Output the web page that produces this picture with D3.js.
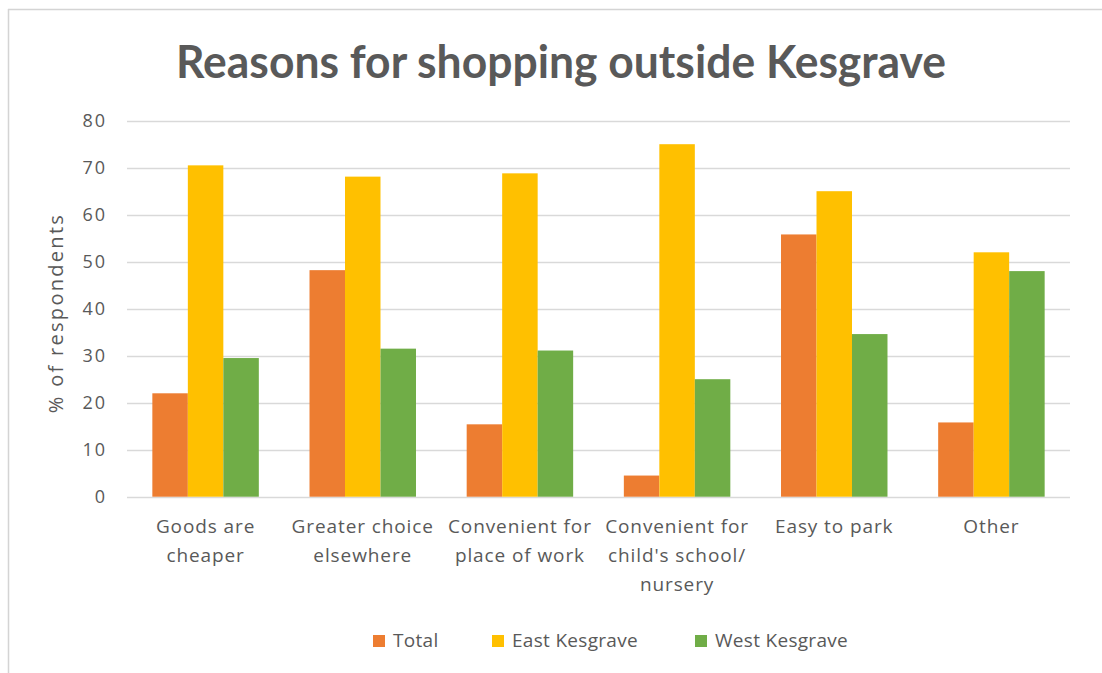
<!DOCTYPE html>
<html>
<head>
<meta charset="utf-8">
<script src="https://cdn.jsdelivr.net/npm/d3@7"></script>
<style>
  html, body { margin: 0; padding: 0; background: #ffffff; }
  svg { display: block; }
</style>
</head>
<body>
<svg id="chart" width="1102" height="673"></svg>
<script>
// Survey results: share of respondents giving each reason
const categories = [
  ["Goods are", "cheaper"],
  ["Greater choice", "elsewhere"],
  ["Convenient for", "place of work"],
  ["Convenient for", "child's school/", "nursery"],
  ["Easy to park"],
  ["Other"]
];
const seriesNames = ["Total", "East Kesgrave", "West Kesgrave"];
const totalValues = [22.0, 48.2, 15.4, 4.5, 55.8, 15.8];
const eastValues  = [70.5, 68.1, 68.8, 75.0, 65.0, 52.0];
const westValues  = [29.5, 31.5, 31.1, 25.0, 34.6, 48.0];
const yTicks = [0, 10, 20, 30, 40, 50, 60, 70, 80];
const colors = ["#ED7D31", "#FFC000", "#70AD47"];

const series = [totalValues, eastValues, westValues];
const catKeys = categories.map(c => c.join(" "));

const svg = d3.select("#chart");
const textColor = "#595959";
const bodyFont = "'Open Sans', sans-serif";
const titleFont = "Lato, 'Open Sans', sans-serif";

// frame edges (top and left)
svg.append("line")
  .attr("x1", 8).attr("x2", 1102).attr("y1", 9.5).attr("y2", 9.5)
  .attr("stroke", "#d4d4d4").attr("stroke-width", 1.5);
svg.append("line")
  .attr("x1", 8.5).attr("x2", 8.5).attr("y1", 9).attr("y2", 673)
  .attr("stroke", "#d4d4d4").attr("stroke-width", 1.5);

const plot = { left: 127, right: 1070, top: 120.7, bottom: 496.7 };

const y = d3.scaleLinear().domain([0, 80]).range([plot.bottom, plot.top]);
const x0 = d3.scaleBand().domain(catKeys).range([plot.left, plot.right])
  .paddingInner(0.3225).paddingOuter(0.16125);
const x1 = d3.scaleBand().domain(seriesNames).range([0, x0.bandwidth()]);

// gridlines
svg.append("g")
  .selectAll("line")
  .data(yTicks)
  .join("line")
  .attr("x1", plot.left).attr("x2", plot.right)
  .attr("y1", d => Math.round(y(d)) + 0.5).attr("y2", d => Math.round(y(d)) + 0.5)
  .attr("stroke", "#d9d9d9").attr("stroke-width", 1.3);

// y axis tick labels
const yAxis = d3.axisLeft(y).tickValues(yTicks).tickSize(0).tickPadding(0);
const yg = svg.append("g").attr("transform", `translate(${107},0)`).call(yAxis);
yg.select(".domain").remove();
yg.selectAll("text")
  .attr("fill", textColor)
  .style("font-family", bodyFont).style("font-size", "18px")
  .style("letter-spacing", "2px");

// bars
const groups = svg.append("g")
  .selectAll("g")
  .data(catKeys)
  .join("g")
  .attr("transform", d => `translate(${x0(d)},0)`);

groups.selectAll("rect")
  .data((d, i) => seriesNames.map((s, j) => ({ s, v: series[j][i], c: colors[j] })))
  .join("rect")
  .attr("x", d => x1(d.s))
  .attr("width", x1.bandwidth())
  .attr("y", d => y(d.v))
  .attr("height", d => y(0) - y(d.v))
  .attr("fill", d => d.c);

// category labels
const xg = svg.append("g").attr("transform", `translate(0,${plot.bottom})`);
categories.forEach((lines, i) => {
  const cx = x0(catKeys[i]) + x0.bandwidth() / 2;
  const t = xg.append("text")
    .attr("x", cx).attr("y", 36)
    .attr("text-anchor", "middle")
    .attr("fill", textColor)
    .style("font-family", bodyFont).style("font-size", "19px")
    .style("letter-spacing", "0.9px");
  lines.forEach((ln, k) => {
    t.append("tspan").attr("x", cx).attr("dy", k === 0 ? 0 : 29).text(ln);
  });
});

// y axis title
svg.append("text")
  .attr("transform", `translate(${63},${313}) rotate(-90)`)
  .attr("text-anchor", "middle")
  .attr("fill", textColor)
  .style("font-family", bodyFont).style("font-size", "20px")
  .style("letter-spacing", "2.3px")
  .text("% of respondents");

// chart title
svg.append("text")
  .attr("x", 561).attr("y", 78)
  .attr("text-anchor", "middle")
  .attr("fill", textColor)
  .attr("textLength", 770).attr("lengthAdjust", "spacingAndGlyphs")
  .style("font-family", titleFont).style("font-weight", "bold").style("font-size", "46px")
  .text("Reasons for shopping outside Kesgrave");

// legend
const legendItems = [
  { name: seriesNames[0], color: colors[0], x: 373 },
  { name: seriesNames[1], color: colors[1], x: 492 },
  { name: seriesNames[2], color: colors[2], x: 695 }
];
const lg = svg.append("g");
legendItems.forEach(it => {
  lg.append("rect").attr("x", it.x).attr("y", 635).attr("width", 12).attr("height", 12).attr("fill", it.color);
  lg.append("text").attr("x", it.x + 20).attr("y", 647)
    .attr("fill", textColor)
    .style("font-family", bodyFont).style("font-size", "19px")
    .style("letter-spacing", "0.3px")
    .text(it.name);
});
</script>
</body>
</html>
